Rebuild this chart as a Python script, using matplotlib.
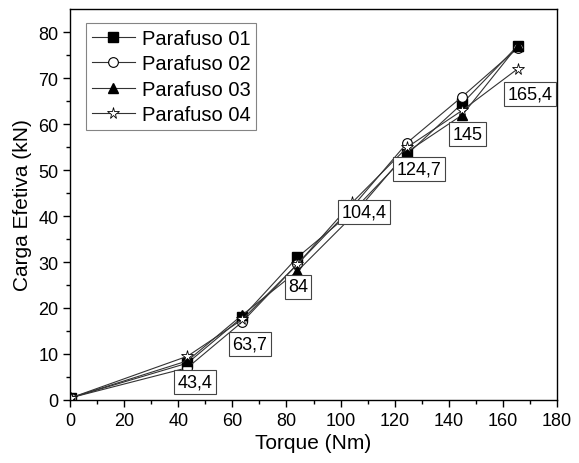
import matplotlib.pyplot as plt
import numpy as np

plt.rcParams['font.family'] = ['Liberation Sans', 'DejaVu Sans']

# torque values (Nm)
torque = [0.5, 43.4, 63.7, 84, 104.4, 124.7, 145, 165.4]

# effective load (kN) per bolt
p01 = [0.5, 8.0, 18.0, 31.0, 41.0, 53.5, 64.5, 77.0]
p02 = [0.5, 7.0, 17.0, 29.5, 42.0, 56.0, 66.0, 76.5]
p03 = [0.5, 8.5, 18.5, 28.0, 40.0, 54.0, 62.0, 77.0]
p04 = [0.5, 9.5, 17.5, 29.5, 43.0, 55.0, 63.0, 72.0]

labels = ['Parafuso 01', 'Parafuso 02', 'Parafuso 03', 'Parafuso 04']

# torque annotation labels and where they sit
box_text = ['43,4', '63,7', '84', '104,4', '124,7', '145', '165,4']
box_x = [46.2, 66.5, 84.3, 108.7, 129.0, 147.0, 170.0]
box_y = [3.9, 12.2, 24.6, 40.9, 50.2, 57.8, 66.5]

fig = plt.figure(figsize=(5.79, 4.64), dpi=100)
ax = fig.add_axes([0.121, 0.136, 0.841, 0.842])

lc = '#333333'
ax.plot(torque, p01, '-s', color=lc, lw=0.8, ms=6.5, mfc='black', mec='black', label=labels[0])
ax.plot(torque, p02, '-o', color=lc, lw=0.8, ms=7, mfc='white', mec='black', mew=0.8, label=labels[1])
ax.plot(torque, p03, '-^', color=lc, lw=0.8, ms=7, mfc='black', mec='black', label=labels[2])
ax.plot(torque, p04, '-*', color=lc, lw=0.8, ms=8.5, mfc='white', mec='black', mew=0.6, label=labels[3])

for t, x, y in zip(box_text, box_x, box_y):
    ax.text(x, y, t, ha='center', va='center', fontsize=13,
            bbox=dict(boxstyle='square,pad=0.18', fc='white', ec='#444444', lw=0.8))

ax.set_xlim(0, 180)
ax.set_ylim(0, 85)
ax.set_xticks(np.arange(0, 181, 20))
ax.set_yticks(np.arange(0, 81, 10))
ax.set_xticks(np.arange(10, 180, 20), minor=True)
ax.set_yticks(np.arange(5, 85, 10), minor=True)
ax.tick_params(which='major', direction='out', length=5, width=1, labelsize=13)
ax.tick_params(which='minor', direction='out', length=3, width=1)
for s in ax.spines.values():
    s.set_linewidth(1.0)

ax.set_xlabel('Torque (Nm)', fontsize=15, labelpad=3)
ax.set_ylabel('Carga Efetiva (kN)', fontsize=15, labelpad=4)

leg = ax.legend(loc='upper left', bbox_to_anchor=(0.025, 0.975), fontsize=14.5,
                frameon=True, fancybox=False, edgecolor='#666666',
                handlelength=2.1, handletextpad=0.35, labelspacing=0.32,
                borderpad=0.3, borderaxespad=0.2)
leg.get_frame().set_linewidth(0.8)

fig.savefig('out.png', dpi=100)
